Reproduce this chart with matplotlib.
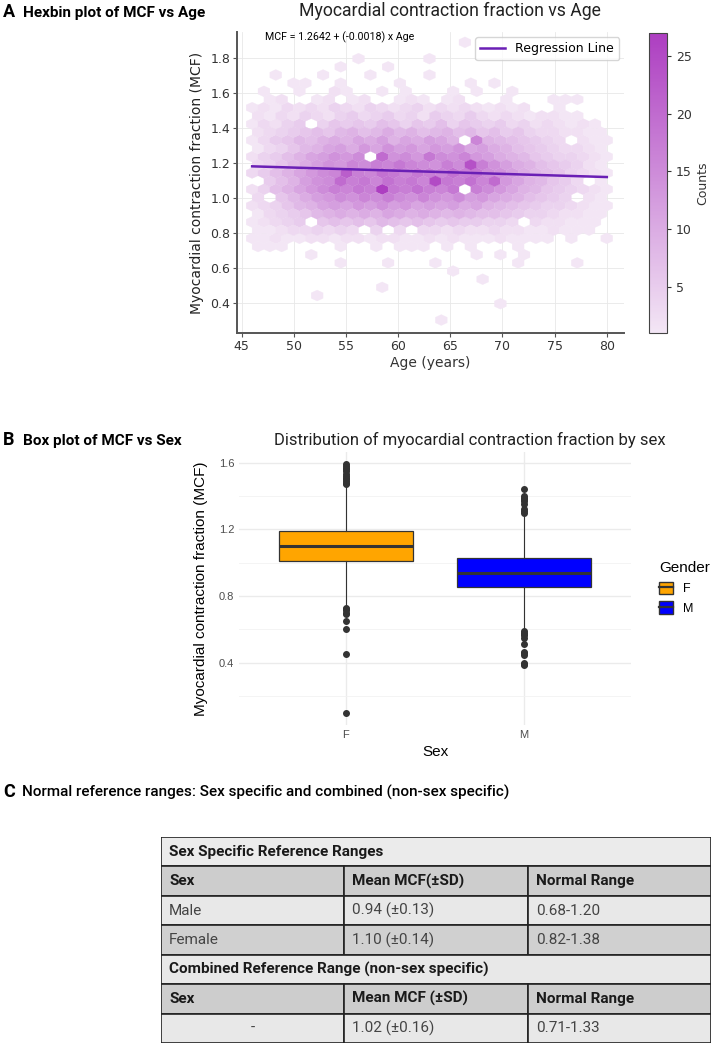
import numpy as np
import matplotlib.pyplot as plt
from matplotlib.colors import LinearSegmentedColormap
from matplotlib.patches import Patch, Rectangle
from matplotlib.lines import Line2D

plt.rcParams['font.family'] = 'DejaVu Sans'

# ---------------- A: hexbin, counts per hex cell ----------------
# rows go from the top (MCF ~1.89) to the bottom (MCF ~0.30);
# rows alternate between the two hex lattices: 31 cells, then 30 shifted cells
hex_rows = [
    [0,0,0,0,0,0,0,0,0,0,0,0,0,0,0,0,0,0,1,0,0,0,0,0,0,0,0,0,0,0,0],
    [0,0,0,0,0,0,0,0,0,0,0,0,0,0,0,0,0,0,0,0,0,0,0,0,0,0,0,0,0,0],
    [0,0,0,0,0,0,0,0,0,1,0,0,0,0,0,1,0,0,0,0,0,0,0,0,0,0,0,0,0,0,0],
    [0,0,0,0,0,0,0,1,0,0,0,1,0,0,0,0,0,0,0,0,0,0,0,0,0,0,0,0,0,0],
    [0,0,1,0,0,0,1,0,0,0,1,0,0,0,0,1,0,0,0,0,0,0,0,0,0,0,0,0,0,0,0],
    [0,0,0,1,1,0,0,1,0,0,0,0,1,0,0,0,0,0,1,0,1,0,0,0,0,0,0,0,0,0],
    [0,1,0,0,1,0,0,2,1,0,0,1,0,1,0,0,0,1,0,1,0,0,1,0,0,0,0,0,0,0,0],
    [0,1,2,0,0,1,2,0,1,2,0,0,1,2,1,0,1,2,0,0,0,1,0,0,0,1,1,1,0,0],
    [1,2,1,3,2,3,2,4,3,2,4,3,2,3,4,2,3,2,3,2,1,2,1,2,0,0,1,0,0,0,0],
    [2,1,3,2,4,3,2,4,5,3,4,5,3,4,2,5,4,3,5,3,2,3,2,1,2,2,1,1,0,0],
    [1,3,2,4,5,0,4,6,5,6,5,7,6,4,6,5,7,4,6,5,4,5,3,4,2,3,2,1,2,1,0],
    [2,3,4,5,6,7,6,8,9,7,8,10,8,9,7,8,9,7,8,6,7,5,6,4,3,3,2,2,1,1],
    [1,3,5,6,8,7,9,10,9,11,10,12,9,11,10,12,11,9,0,16,9,8,7,6,5,4,3,0,2,1,1],
    [1,3,4,6,8,9,11,12,10,13,11,14,12,13,11,13,12,14,11,12,10,9,7,6,5,4,3,3,2,1],
    [2,4,5,7,9,11,12,14,13,15,0,20,14,15,13,18,15,14,16,13,12,10,9,8,6,5,4,4,3,2,1],
    [3,4,6,8,10,12,14,13,16,15,17,16,18,16,15,14,17,15,24,17,14,12,10,9,7,6,5,4,2,1],
    [3,5,7,9,11,13,15,16,22,17,16,19,18,16,18,17,16,19,17,18,15,14,12,10,8,7,6,4,3,2,1],
    [0,5,7,9,12,14,15,20,17,18,16,19,17,18,16,25,18,17,19,16,20,13,11,9,8,6,5,3,0,1],
    [2,4,7,9,11,13,15,17,16,18,17,27,18,17,19,17,16,18,0,17,15,13,11,9,8,6,5,4,3,2,1],
    [3,0,6,8,10,12,13,15,14,16,15,17,15,14,16,14,13,15,12,13,11,10,9,7,6,5,4,0,2,1],
    [2,3,4,6,8,9,11,12,11,13,12,14,12,13,11,12,11,12,10,11,9,8,7,6,5,4,4,3,2,1,1],
    [1,3,4,5,6,8,9,10,9,10,9,11,10,9,10,9,8,9,8,7,7,6,5,4,4,3,2,2,1,1],
    [1,2,3,4,5,0,6,7,6,7,6,8,7,6,7,6,5,6,5,5,4,4,3,0,3,2,2,1,1,1,0],
    [1,1,2,3,3,4,3,4,3,0,4,0,3,0,3,3,2,3,2,2,3,2,2,1,1,2,1,1,1,0],
    [1,1,2,1,1,2,2,1,2,2,1,2,2,1,1,2,1,2,1,1,1,2,1,1,1,1,0,1,0,0,1],
    [1,1,1,0,0,0,0,1,0,0,1,0,1,1,1,0,1,0,1,0,0,0,1,0,0,0,0,0,0,0],
    [0,0,0,0,0,1,0,0,0,0,0,0,0,0,0,0,0,0,0,1,0,1,0,1,0,0,0,0,0,0,0],
    [0,0,0,0,0,0,0,1,0,0,0,1,0,0,0,1,0,0,0,0,0,0,1,0,0,0,0,1,0,0],
    [0,0,0,0,0,0,0,0,0,0,0,0,0,0,0,0,0,1,0,0,0,0,0,0,0,0,0,0,0,0,0],
    [0,0,0,0,0,0,0,0,0,0,0,0,0,0,0,0,0,0,0,1,0,0,0,0,0,0,0,0,0,0],
    [0,0,0,0,0,0,0,0,0,0,0,1,0,0,0,0,0,0,0,0,0,0,0,0,0,0,0,0,0,0,0],
    [0,0,0,0,0,1,0,0,0,0,0,0,0,0,0,0,0,0,0,0,0,0,0,0,0,0,0,0,0,0],
    [0,0,0,0,0,0,0,0,0,0,0,0,0,0,0,0,0,0,0,0,0,1,0,0,0,0,0,0,0,0,0],
    [0,0,0,0,0,0,0,0,0,0,0,0,0,0,0,0,0,0,0,0,0,0,0,0,0,0,0,0,0,0],
    [0,0,0,0,0,0,0,0,0,0,0,0,0,0,0,0,1,0,0,0,0,0,0,0,0,0,0,0,0,0,0],
]
age_min, age_max = 46, 80
mcf_min, mcf_max = 0.303, 1.89
reg_intercept = 1.2642
reg_slope = -0.0018

# ---------------- B: box plot ----------------
sexes = ['F', 'M']
box_q1 = [1.01, 0.855]
box_med = [1.10, 0.94]
box_q3 = [1.19, 1.028]
box_whislo = [0.74, 0.60]
box_whishi = [1.46, 1.29]
fliers_f = [1.59, 1.58, 1.57, 1.56, 1.55, 1.53, 1.52, 1.51, 1.50, 1.49, 1.48, 1.47,
            0.73, 0.72, 0.715, 0.70, 0.69, 0.65, 0.60, 0.45, 0.10]
fliers_m = [1.44, 1.40, 1.39, 1.38, 1.37, 1.35, 1.32, 1.31, 1.30,
            0.59, 0.58, 0.57, 0.565, 0.55, 0.51, 0.465, 0.455, 0.445, 0.40, 0.39, 0.385]
box_colors = ['#FFA500', '#0000FF']

# ---------------- C: table ----------------
table_rows = [
    ['Sex Specific Reference Ranges'],
    ['Sex', 'Mean MCF(±SD)', 'Normal Range'],
    ['Male', '0.94 (±0.13)', '0.68-1.20'],
    ['Female', '1.10 (±0.14)', '0.82-1.38'],
    ['Combined Reference Range (non-sex specific)'],
    ['Sex', 'Mean MCF (±SD)', 'Normal Range'],
    ['-', '1.02 (±0.16)', '0.71-1.33'],
]
bold_rows = [0, 1, 4, 5]
row_fills = ['#ebebeb', '#cdcdcd', '#e8e8e8', '#d0d0d0', '#e8e8e8', '#cdcdcd', '#e8e8e8']

W, H = 712, 1046
fig = plt.figure(figsize=(W / 100, H / 100), dpi=100)


def fx(px):
    return px / W


def fy(py):
    return 1 - py / H


# ---------- panel A ----------
nx, ny = 30, 17
sx = (age_max - age_min) / nx
sy = (mcf_max - mcf_min) / ny
hx, hy, hc = [], [], []
top_k = len(hex_rows) - 1
for r, row in enumerate(hex_rows):
    k = top_k - r
    shift = 0.5 * (k % 2)
    for i, c in enumerate(row):
        if c > 0:
            hx.append(age_min + (i + shift) * sx)
            hy.append(mcf_min + k / 2 * sy)
            hc.append(c)

ax = fig.add_axes([fx(237), fy(333), fx(624) - fx(237), fy(32) - fy(333)])
cmap = LinearSegmentedColormap.from_list('mcf', ['#f3e6f5', '#ad3ec1'])
hb = ax.hexbin(hx, hy, C=hc, reduce_C_function=np.sum, gridsize=(nx, ny),
               extent=(age_min, age_max, mcf_min, mcf_max), cmap=cmap,
               vmin=1, vmax=27, linewidths=0.2, edgecolors='face')
ages = np.array([age_min, age_max])
ax.plot(ages, reg_intercept + reg_slope * ages, color='#6a1fb5', lw=1.8,
        label='Regression Line')
ax.set_xlim(44.55, 81.65)
ax.set_ylim(0.229, 1.949)
ax.set_xticks(np.arange(45, 81, 5))
ax.set_yticks([0.4, 0.6, 0.8, 1.0, 1.2, 1.4, 1.6, 1.8])
ax.grid(True, color='#e8e8e8', lw=0.6)
ax.set_axisbelow(True)
for s in ['top', 'right']:
    ax.spines[s].set_visible(False)
for s in ['left', 'bottom']:
    ax.spines[s].set_color('#555555')
    ax.spines[s].set_linewidth(1.4)
ax.tick_params(labelsize=9, colors='#333333', length=3, color='#555555', pad=2)
ax.set_xlabel('Age (years)', fontsize=10, color='#333333', labelpad=2)
ax.set_ylabel('Myocardial contraction fraction (MCF)', fontsize=10, color='#222222')
ax.legend(loc='upper right', fontsize=9, frameon=True, edgecolor='#cccccc',
          fancybox=True, borderaxespad=0.4)
ax.text(0.072, 0.983, 'MCF = 1.2642 + (-0.0018) x Age', transform=ax.transAxes,
        fontsize=7.7, family='Roboto', va='center', ha='left')

cax = fig.add_axes([fx(649), fy(333), fx(667) - fx(649), fy(33) - fy(333)])
cb = fig.colorbar(hb, cax=cax, ticks=[5, 10, 15, 20, 25])
cb.outline.set_edgecolor('#444444')
cb.ax.tick_params(labelsize=9, colors='#333333', length=3)
cb.set_label('Counts', fontsize=9, color='#333333', labelpad=3)

fig.text(fx(3), fy(12), 'A', fontsize=13, weight='bold', family='Roboto', va='center')
fig.text(fx(23), fy(13), 'Hexbin plot of MCF vs Age', fontsize=11, weight='bold',
         family='Roboto', va='center')
fig.text(fx(450), fy(11), 'Myocardial contraction fraction vs Age', fontsize=12.7,
         family='Roboto', ha='center', va='center', color='#222222')

# ---------- panel B ----------
ax2 = fig.add_axes([fx(239), fy(725), fx(631) - fx(239), fy(452) - fy(725)])
stats = []
for j, s in enumerate(sexes):
    stats.append(dict(label=s, q1=box_q1[j], med=box_med[j], q3=box_q3[j],
                      whislo=box_whislo[j], whishi=box_whishi[j],
                      fliers=[fliers_f, fliers_m][j]))
bp = ax2.bxp(stats, positions=[1, 2], widths=0.75, patch_artist=True, showcaps=False,
             boxprops=dict(edgecolor='#333333', linewidth=0.9),
             medianprops=dict(color='#333333', linewidth=2.2),
             whiskerprops=dict(color='#333333', linewidth=0.8),
             flierprops=dict(marker='o', markersize=4, markerfacecolor='#333333',
                             markeredgecolor='#333333'))
for patch, col in zip(bp['boxes'], box_colors):
    patch.set_facecolor(col)
ax2.set_xlim(0.4, 2.6)
ax2.set_ylim(0.0255, 1.665)
ax2.set_yticks([0.4, 0.8, 1.2, 1.6])
ax2.set_yticks([0.2, 0.6, 1.0, 1.4], minor=True)
ax2.grid(True, which='major', color='#ebebeb', lw=1.0)
ax2.grid(True, which='minor', axis='y', color='#f2f2f2', lw=0.6)
ax2.set_axisbelow(True)
for s in ax2.spines.values():
    s.set_visible(False)
ax2.tick_params(which='both', length=0, labelsize=8, colors='#4d4d4d')
for lab in ax2.get_xticklabels() + ax2.get_yticklabels():
    lab.set_family('Liberation Sans')
ax2.set_xlabel('Sex', fontsize=11, family='Liberation Sans', labelpad=4)
ax2.set_ylabel('Myocardial contraction fraction (MCF)', fontsize=11,
               family='Liberation Sans', labelpad=8)
handles = [(Patch(facecolor=c, edgecolor='#333333'),
            Line2D([], [], color='#333333', lw=1.6)) for c in box_colors]
fig.legend(handles, sexes, title='Gender', loc='upper left',
           bbox_to_anchor=(fx(648), fy(550)), frameon=False,
           prop=dict(family='Liberation Sans', size=9),
           title_fontproperties=dict(family='Liberation Sans', size=11),
           handlelength=1.1, handleheight=1.2, alignment='left')

fig.text(fx(3), fy(440), 'B', fontsize=13, weight='bold', family='Roboto', va='center')
fig.text(fx(23), fy(441), 'Box plot of MCF vs Sex', fontsize=11, weight='bold',
         family='Roboto', va='center')
fig.text(fx(470), fy(440), 'Distribution of myocardial contraction fraction by sex',
         fontsize=12, family='Roboto', ha='center', va='center', color='#222222')

# ---------- panel C ----------
fig.text(fx(3), fy(792), 'C', fontsize=13, weight='bold', family='Roboto', va='center')
fig.text(fx(22), fy(792),
         'Normal reference ranges: Sex specific and combined (non-sex specific)',
         fontsize=11, family='Roboto', weight='medium', va='center')

tax = fig.add_axes([fx(161), fy(1043), fx(711) - fx(161), fy(837) - fy(1043)])
tax.set_xlim(0, 1)
tax.set_ylim(len(table_rows), 0)
tax.axis('off')
col_edges = [0, 0.3327, 0.6673, 1.0]
for r, row in enumerate(table_rows):
    bold = r in bold_rows
    style = dict(fontsize=11, family='Roboto', va='center',
                 weight='bold' if bold else 'normal',
                 color='#1a1a1a' if bold else '#444444')
    if len(row) == 1:
        tax.add_patch(Rectangle((0, r), 1, 1, facecolor=row_fills[r],
                                edgecolor='#222222', lw=1.2))
        tax.text(0.015, r + 0.5, row[0], **style)
        continue
    for c, val in enumerate(row):
        x0, x1 = col_edges[c], col_edges[c + 1]
        tax.add_patch(Rectangle((x0, r), x1 - x0, 1, facecolor=row_fills[r],
                                edgecolor='#222222', lw=1.2))
        if val == '-':
            tax.text((x0 + x1) / 2, r + 0.5, val, ha='center', **style)
        else:
            tax.text(x0 + 0.015, r + 0.5, val, **style)

fig.savefig('out.png', dpi=100)
